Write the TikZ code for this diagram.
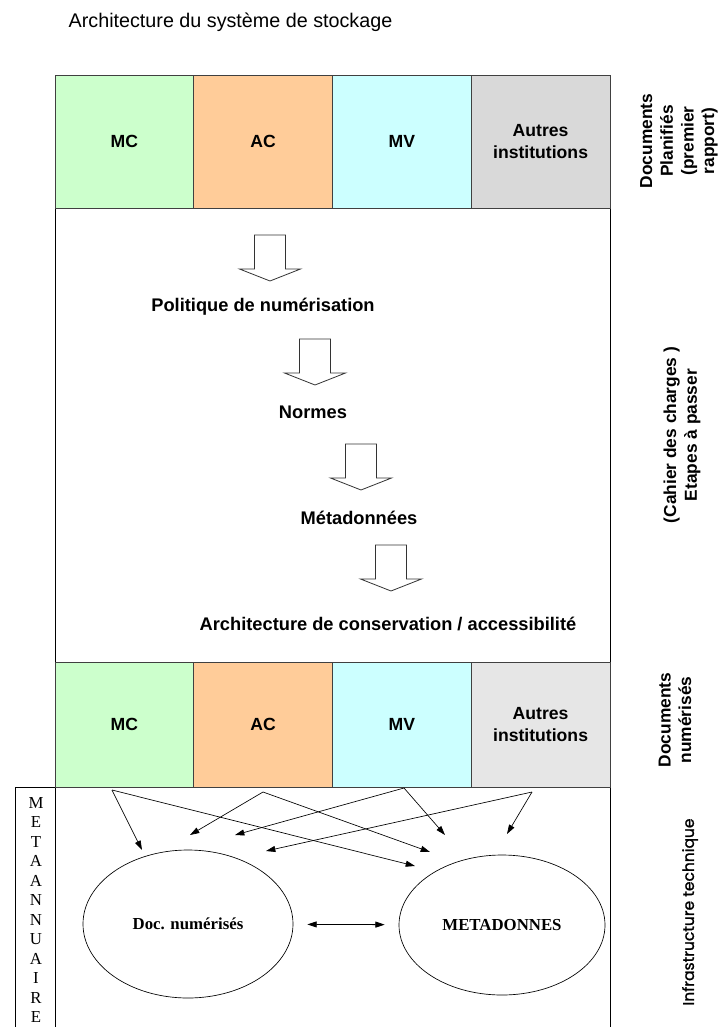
\documentclass[tikz,border=0pt]{standalone}
\usepackage{fontspec}
\setmainfont{Liberation Sans}
\newfontfamily\timesfont{Liberation Serif}
\newfontfamily\geofont[FakeBold=1.2]{Poppins}
\usepackage{tikz}
\usetikzlibrary{arrows.meta,positioning,shapes.geometric}

\definecolor{mcgreen}{HTML}{CCFFCC}
\definecolor{acorange}{HTML}{FFCC99}
\definecolor{mvcyan}{HTML}{CCFFFF}
\definecolor{othgray}{HTML}{D9D9D9}
\definecolor{othlight}{HTML}{E6E6E6}

\begin{document}
\begin{tikzpicture}[x=0.75pt, y=-0.75pt,
    cell/.style={draw=black!75, line width=0.5pt, minimum width=104.06pt, inner sep=0pt,
                 align=center, font=\fontsize{13.2}{16.5}\selectfont\bfseries},
    toprow/.style={cell, minimum height=99.75pt},
    lowrow/.style={cell, minimum height=93.75pt},
    stage/.style={font=\fontsize{13.7}{16}\selectfont\bfseries},
    side/.style={rotate=90, align=center, font=\fontsize{13}{15.5}\selectfont\bfseries},
    store/.style={draw, ellipse, inner sep=0pt, line width=0.5pt,
                  font=\timesfont\fontsize{12.6}{14}\selectfont\bfseries},
    link/.style={-{Triangle[length=7pt,width=4.5pt]}, line width=0.5pt},
    both/.style={{Triangle[length=7pt,width=4.5pt]}-{Triangle[length=7pt,width=4.5pt]}, line width=0.6pt},
    frame/.style={line width=0.6pt},
    hollow/.pic={\draw[line width=0.6pt, draw=black!80]
      (-15.5,0) -- (15.5,0) -- (15.5,34) -- (30.5,34) -- (0,46) -- (-30.5,34) -- (-15.5,34) -- cycle;}
  ]
    \useasboundingbox (0,0) rectangle (718,1027);

    \node[anchor=west, font=\fontsize{14.8}{17}\selectfont] (title) at (64,22) {Architecture du système de stockage};

    % frame of the planned / digitised parts
    \draw[frame] (55,75) rectangle (610,787);
    \draw[frame] (15,787) -- (15,1027) (55,787) -- (55,1027) (610,787) -- (610,1027) (15,787) -- (55,787);

    % documents planifies
    \node[toprow, fill=mcgreen]  (mc1)  at (124.4,141.5) {MC};
    \node[toprow, fill=acorange] (ac1)  at (263.1,141.5) {AC};
    \node[toprow, fill=mvcyan]   (mv1)  at (401.9,141.5) {MV};
    \node[toprow, fill=othgray]  (oth1) at (540.6,141.5) {Autres\\institutions};

    % etapes
    \pic at (270,235) {hollow};
    \node[stage] (policy) at (263,307) {Politique de numérisation};
    \pic at (315,339) {hollow};
    \node[stage] (norms) at (313,412) {Normes};
    \pic at (361,444) {hollow};
    \node[stage] (meta1) at (359,518) {Métadonnées};
    \pic at (391,545) {hollow};
    \node[stage] (arch) at (388,624) {Architecture de conservation / accessibilité};

    % documents numerises
    \node[lowrow, fill=mcgreen]   (mc2)  at (124.4,724.5) {MC};
    \node[lowrow, fill=acorange]  (ac2)  at (263.1,724.5) {AC};
    \node[lowrow, fill=mvcyan]    (mv2)  at (401.9,724.5) {MV};
    \node[lowrow, fill=othlight]  (oth2) at (540.6,724.5) {Autres\\institutions};

    % infrastructure technique
    \node[align=center, font=\timesfont\fontsize{12.6}{14.6}\selectfont] (annu) at (36,910)
      {M\\E\\T\\A\\A\\N\\N\\U\\A\\I\\R\\E};
    \node[store, minimum width=157.5pt, minimum height=111pt] (docs) at (188,924) {Doc. numérisés};
    \node[store, minimum width=154.5pt, minimum height=105pt] (meta) at (502,925) {METADONNES};
    \draw[both, shorten >=10.5pt, shorten <=10.5pt] (docs) -- (meta);

    \coordinate (o1) at (112,790);
    \coordinate (o2) at (263,792);
    \coordinate (o3) at (404,788);
    \coordinate (o4) at (532,792);
    \coordinate (a1) at (142,850);
    \coordinate (a2) at (190,835);
    \coordinate (a3) at (235,835);
    \coordinate (a4) at (266,851);
    \coordinate (b1) at (415,866);
    \coordinate (b2) at (430,852);
    \coordinate (b3) at (445,835);
    \coordinate (b4) at (507,834);
    \foreach \i in {1,...,4} {
      \draw[link] (o\i) -- (a\i);
      \draw[link] (o\i) -- (b\i);
    }

    % side labels
    \node[side] (plan) at (679,141) {Documents\\Planifiés\\(premier\\rapport)};
    \node[side] (spec) at (682,435) {(Cahier des charges )\\Etapes à passer};
    \node[side] (digi) at (675,720) {Documents\\numérisés};
    \node[side, font=\geofont\fontsize{11.6}{14}\selectfont] (infra) at (690,912) {Infrastructure technique};
  \end{tikzpicture}
\end{document}
